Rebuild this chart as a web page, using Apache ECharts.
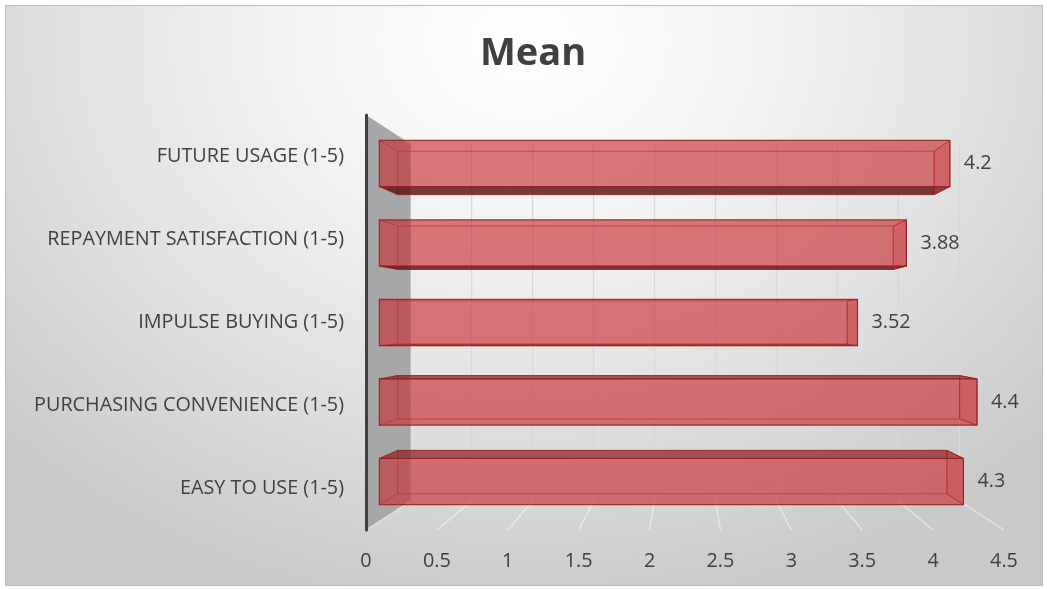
<!DOCTYPE html>
<html>
<head>
<meta charset="utf-8">
<script src="https://cdn.jsdelivr.net/npm/echarts@6/dist/echarts.min.js"></script>
<style>
  html, body { margin: 0; padding: 0; background: #ffffff; }
  #wrap { position: relative; width: 1047px; height: 589px; overflow: hidden; }
  #frame {
    position: absolute; left: 5px; top: 5px; width: 1036px; height: 579px;
    border: 1px solid #bdbdbd;
    background: radial-gradient(ellipse 70% 100% at 50% 6%, #ffffff 0%, #f4f4f4 30%, #e2e2e2 62%, #c9c9c9 100%);
  }
  #chart { position: absolute; left: 0; top: 0; width: 1047px; height: 589px; }
</style>
</head>
<body>
<div id="wrap">
  <div id="frame"></div>
  <div id="chart"></div>
</div>
<script>
// ---- data ----
const categories = [
  'FUTURE USAGE (1-5)',
  'REPAYMENT SATISFACTION (1-5)',
  'IMPULSE BUYING (1-5)',
  'PURCHASING CONVENIENCE (1-5)',
  'EASY TO USE (1-5)'
];
const meanValues = [4.2, 3.88, 3.52, 4.4, 4.3];
const xTicks = [0, 0.5, 1, 1.5, 2, 2.5, 3, 3.5, 4, 4.5];
const chartTitle = 'Mean';

// ---- perspective depths (1 = front plane where axis labels sit) ----
const BAR_FRONT = 0.958;
const BAR_BACK = 0.901;
const WALL = 0.86;
const BAR_HALF = 0.29; // fraction of category band
const FONT = 'Open Sans';
const FS = 19.8;

function projector(cs) {
  const vx = cs.x + cs.width / 2, vy = cs.y + cs.height / 2;
  return function (x, y, s) { return [vx + (x - vx) * s, vy + (y - vy) * s]; };
}

function renderScene(params, api) {
  const cs = params.coordSys;
  const P = projector(cs);
  const top = cs.y, bottom = cs.y + cs.height, left = cs.x;
  const children = [];
  children.push({
    type: 'polygon',
    shape: { points: [[left, top], P(left, top, WALL), P(left, bottom, WALL), [left, bottom]] },
    style: { fill: '#a7a7a7', stroke: null }
  });
  xTicks.forEach(function (v) {
    const x = api.coord([v, 0])[0];
    const bt = P(x, top, WALL), bb = P(x, bottom, WALL);
    if (v > 0) {
      children.push({
        type: 'line',
        shape: { x1: bt[0], y1: bt[1], x2: bb[0], y2: bb[1] },
        style: { stroke: '#d8d8d8', lineWidth: 1.3 }
      });
    }
    children.push({
      type: 'line',
      shape: { x1: bb[0], y1: bb[1], x2: x, y2: bottom },
      style: { stroke: 'rgba(255,255,255,0.55)', lineWidth: 1.3 }
    });
  });
  return { type: 'group', children: children };
}

function renderBar(params, api) {
  const cs = params.coordSys;
  const P = projector(cs);
  const vy = cs.y + cs.height / 2;
  const val = api.value(0), idx = api.value(1);
  const p0 = api.coord([0, idx]), p1 = api.coord([val, idx]);
  const half = api.size([0, 1])[1] * BAR_HALF;
  function corners(s) {
    return [P(p0[0], p0[1] - half, s), P(p1[0], p0[1] - half, s),
            P(p1[0], p0[1] + half, s), P(p0[0], p0[1] + half, s)];
  }
  const f = corners(BAR_FRONT), b = corners(BAR_BACK);
  const hiddenStroke = 'rgba(180,45,48,0.4)';
  const edge = 'rgba(150,30,32,0.8)';
  const topFace = [f[0], f[1], b[1], b[0]];
  const botFace = [f[3], f[2], b[2], b[3]];
  const below = p0[1] > vy;
  const children = [];
  children.push({ type: 'polygon', shape: { points: b },
    style: { fill: 'rgba(190,50,52,0.08)', stroke: hiddenStroke, lineWidth: 1 } });
  children.push({ type: 'polygon', shape: { points: [f[0], b[0], b[3], f[3]] },
    style: { fill: 'rgba(170,40,42,0.05)', stroke: hiddenStroke, lineWidth: 1 } });
  children.push({ type: 'polygon', shape: { points: below ? botFace : topFace },
    style: { fill: 'rgba(170,40,42,0.06)', stroke: hiddenStroke, lineWidth: 1 } });
  if (below) {
    children.push({ type: 'polygon', shape: { points: topFace },
      style: { fill: 'rgba(140,30,32,0.7)', stroke: edge, lineWidth: 1 } });
  } else {
    children.push({ type: 'polygon', shape: { points: botFace },
      style: { fill: 'rgba(90,15,18,0.8)', stroke: edge, lineWidth: 1 } });
  }
  children.push({ type: 'polygon', shape: { points: [f[1], b[1], b[2], f[2]] },
    style: { fill: 'rgba(205,70,72,0.3)', stroke: edge, lineWidth: 1 } });
  children.push({ type: 'polygon', shape: { points: f },
    style: { fill: 'rgba(200,45,48,0.6)', stroke: edge, lineWidth: 1.2 } });
  children.push({
    type: 'text',
    x: f[1][0] + 14, y: (f[1][1] + f[2][1]) / 2,
    style: { text: String(val), fill: '#404040', font: FS + 'px "' + FONT + '"', align: 'left', verticalAlign: 'middle' }
  });
  return { type: 'group', children: children };
}

const chart = echarts.init(document.getElementById('chart'), null, { renderer: 'canvas' });
chart.setOption({
  backgroundColor: 'transparent',
  animation: false,
  textStyle: { fontFamily: FONT },
  graphic: [{
    type: 'text', x: 533, y: 35,
    style: { text: chartTitle, fill: '#404040', font: 'bold 38px "' + FONT + '"', align: 'center', verticalAlign: 'top' }
  }],
  grid: { left: 366, right: 43, top: 115, bottom: 59, containLabel: false },
  xAxis: {
    type: 'value', min: 0, max: 4.5, interval: 0.5,
    axisLine: { show: false }, axisTick: { show: false }, splitLine: { show: false },
    axisLabel: { color: '#404040', fontSize: FS, fontFamily: FONT, margin: 21 }
  },
  yAxis: {
    type: 'category', data: categories, inverse: true, z: 10,
    axisLine: { show: true, lineStyle: { color: '#404040', width: 3 } },
    axisTick: { show: false }, splitLine: { show: false },
    axisLabel: { color: '#404040', fontSize: FS, fontFamily: FONT, margin: 22 }
  },
  series: [
    { type: 'custom', name: 'scene', z: 1, clip: false, silent: true,
      data: [[0, 0]], encode: { x: 0, y: 1 }, renderItem: renderScene },
    { type: 'custom', name: 'Mean', z: 3, clip: false,
      data: meanValues.map(function (v, i) { return [v, i]; }), encode: { x: 0, y: 1 },
      renderItem: renderBar }
  ]
});
</script>
</body>
</html>
